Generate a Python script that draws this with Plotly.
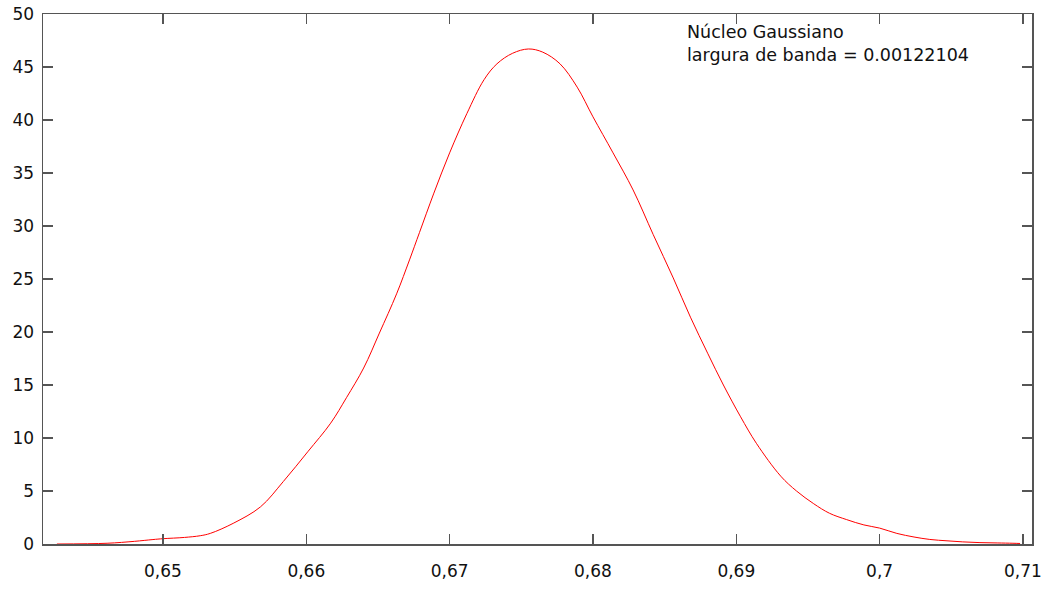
import plotly.graph_objects as go

# KDE curve (Gaussian kernel)
x_vals = [0.6426, 0.6461, 0.6480, 0.6493, 0.6500, 0.6515, 0.6526, 0.6533, 0.6549,
          0.6568, 0.6584, 0.6601, 0.6617, 0.6628, 0.6640, 0.6651, 0.6663, 0.6672,
          0.6679, 0.6689, 0.6700, 0.6712, 0.6724, 0.6733, 0.6744, 0.6755, 0.6765,
          0.6777, 0.6789, 0.6800, 0.6814, 0.6828, 0.6842, 0.6856, 0.6868, 0.6880,
          0.6891, 0.6903, 0.6914, 0.6931, 0.6942, 0.6954, 0.6965, 0.6977, 0.6989,
          0.7000, 0.7012, 0.7024, 0.7035, 0.7047, 0.7058, 0.7070, 0.7082, 0.7093,
          0.7098]
y_vals = [0.0, 0.07, 0.25, 0.42, 0.5, 0.62, 0.78, 1.0, 1.95,
          3.5, 5.9, 8.7, 11.4, 13.8, 16.6, 19.9, 23.6, 26.8,
          29.4, 33.1, 36.9, 40.6, 43.8, 45.3, 46.3, 46.7, 46.4,
          45.3, 43.1, 40.3, 36.9, 33.4, 29.2, 25.1, 21.4, 18.0,
          15.0, 12.0, 9.5, 6.4, 5.0, 3.8, 2.9, 2.3, 1.8,
          1.5, 1.0, 0.66, 0.43, 0.3, 0.2, 0.13, 0.1, 0.07,
          0.05]

x_ticks = [0.65, 0.66, 0.67, 0.68, 0.69, 0.70, 0.71]
y_ticks = [0, 5, 10, 15, 20, 25, 30, 35, 40, 45, 50]
label_lines = ["Núcleo Gaussiano", "largura de banda = 0.00122104"]

fig = go.Figure()
fig.add_trace(go.Scatter(x=x_vals, y=y_vals, mode="lines",
                         line=dict(color="#ff0000", width=1, shape="spline", smoothing=1.0),
                         hoverinfo="skip", showlegend=False))

axis_common = dict(showgrid=False, zeroline=False, showline=True, mirror="ticks",
                   linecolor="#555555", linewidth=1.5, ticks="inside", ticklen=10,
                   tickcolor="#555555", tickwidth=1.5, automargin=False,
                   ticklabeloverflow="allow",
                   tickfont=dict(family="DejaVu Sans", size=17, color="#111111"))

fig.update_xaxes(range=[0.64163, 0.71063], tickvals=x_ticks, ticklabelstandoff=11,
                 **axis_common)
fig.update_yaxes(range=[0, 50], tickvals=y_ticks, ticklabelstandoff=4, **axis_common)

plot_h = 530
for i, t in enumerate(label_lines):
    fig.add_annotation(text=t, xref="paper", yref="paper", x=0.6492,
                       y=(plot_h - 18 - 23 * i) / plot_h, xanchor="left", yanchor="middle",
                       showarrow=False, font=dict(family="DejaVu Sans", size=17.5, color="#111111"))

fig.update_layout(width=1056, height=590, margin=dict(l=43, r=24, t=14, b=46),
                  plot_bgcolor="white", paper_bgcolor="white", separators=",.")

fig.write_html("out.html", config={"displayModeBar": False, "staticPlot": True},
               post_script="document.body.style.margin='0';document.body.style.overflow='hidden';")
